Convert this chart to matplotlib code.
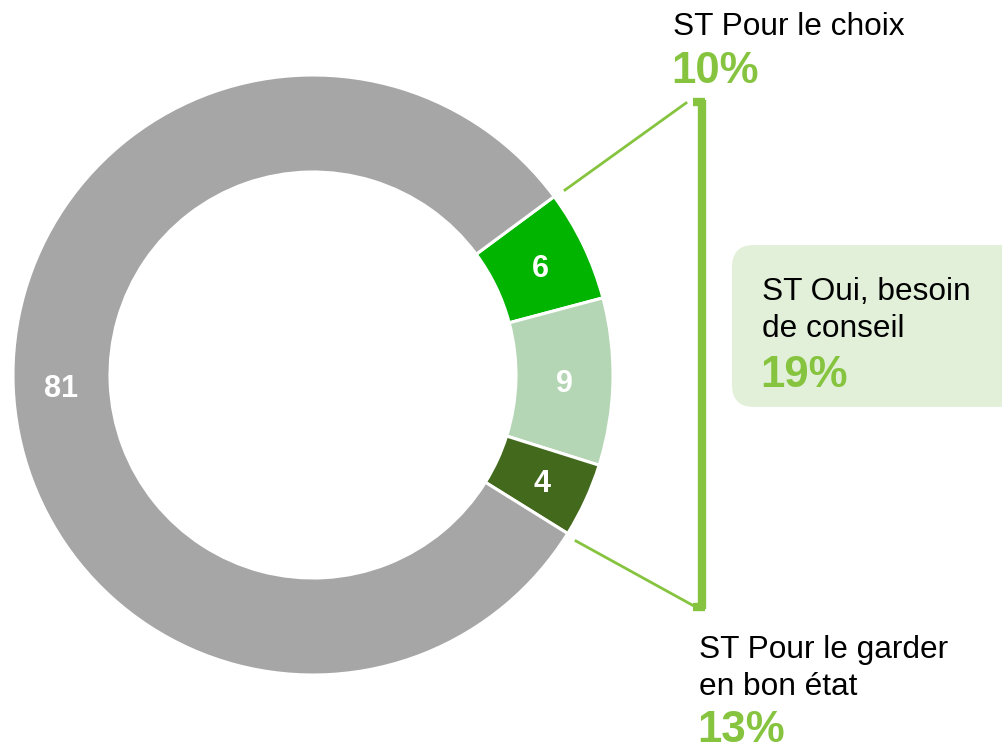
import matplotlib
matplotlib.use("Agg")
import matplotlib.pyplot as plt
from matplotlib.patches import FancyBboxPatch

# --- data ---
segments = ["ST Pour le choix", "ST Oui, besoin de conseil", "ST Pour le garder en bon état", "Autres"]
values = [6, 9, 4, 81]
colors = ["#00B400", "#B5D6B5", "#436A1C", "#A6A6A6"]
groups = [["ST Pour le choix"], ["ST Oui, besoin", "de conseil"], ["ST Pour le garder", "en bon état"]]
group_pct = ["10%", "19%", "13%"]

W, H = 1003, 749
GREEN = "#86C440"
FONT = "Liberation Sans"
Y = lambda y: H - y          # pixel row -> data y

fig = plt.figure(figsize=(W / 100, H / 100), dpi=100)
ax = fig.add_axes([0, 0, 1, 1])
ax.set_xlim(0, W); ax.set_ylim(0, H); ax.set_aspect("equal"); ax.axis("off")

wedges, _, autotexts = ax.pie(
    values, colors=colors, center=(313, Y(375)), radius=300,
    startangle=36.5, counterclock=False, autopct=lambda p: f"{p:.0f}",
    pctdistance=0.84, wedgeprops=dict(width=97, edgecolor="white", linewidth=2.2),
    textprops=dict(color="white", fontsize=22, fontweight="bold", family=FONT))
for t in autotexts:
    t.set_va("center_baseline")
ax.set_xlim(0, W); ax.set_ylim(0, H)

# bracket + connector lines
ax.plot([702, 702], [Y(100), Y(609)], color=GREEN, lw=6, solid_capstyle="butt")
ax.plot([693, 705], [Y(102), Y(102)], color=GREEN, lw=6, solid_capstyle="butt")
ax.plot([693, 705], [Y(607), Y(607)], color=GREEN, lw=6, solid_capstyle="butt")
ax.plot([565, 686], [Y(190), Y(103)], color=GREEN, lw=2)
ax.plot([576, 694], [Y(541), Y(606)], color=GREEN, lw=2)

# rounded box for total
ax.add_patch(FancyBboxPatch((732, Y(407)), 290, 162,
                            boxstyle="round,pad=0,rounding_size=22",
                            fc="#E2F0D9", ec="none"))

# group labels
kw = dict(family=FONT, fontsize=22.8, color="black", va="baseline", ha="left")
pk = dict(family=FONT, fontsize=31.5, color=GREEN, fontweight="bold", va="baseline", ha="left")
ax.text(673, Y(35), groups[0][0], **kw)
ax.text(671, Y(83), group_pct[0], **pk)
ax.text(762, Y(300), groups[1][0], **kw)
ax.text(762, Y(337), groups[1][1], **kw)
ax.text(760, Y(387), group_pct[1], **pk)
ax.text(699, Y(658), groups[2][0], **kw)
ax.text(699, Y(695), groups[2][1], **kw)
ax.text(697, Y(742), group_pct[2], **pk)

fig.savefig("out.png", dpi=100)
